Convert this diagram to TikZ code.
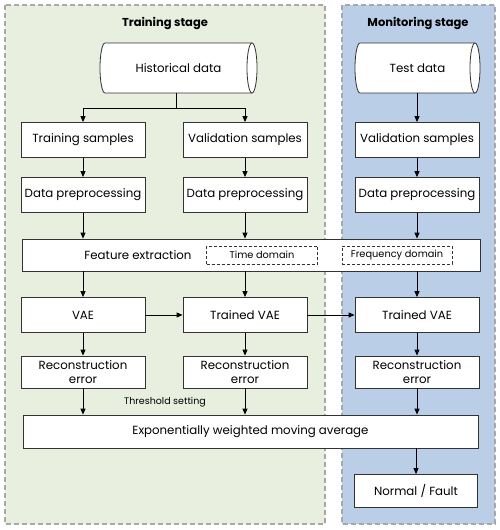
\documentclass[tikz,border=0pt]{standalone}
\usepackage{fontspec}
\setmainfont{Poppins}
\usetikzlibrary{arrows.meta}
\definecolor{pgreen}{HTML}{E8EFDE}
\definecolor{pblue}{HTML}{BACEE8}
\definecolor{pborder}{HTML}{A8A8A8}
\definecolor{bline}{HTML}{333333}
\tikzset{
  panel/.style={draw=pborder,dashed,line width=1.3pt,dash pattern=on 5pt off 3pt},
  box/.style={draw=bline,fill=white,line width=0.8pt,inner sep=0pt,align=center,font=\fontsize{11.8}{13.5}\selectfont},
  dbox/.style={draw=bline,fill=white,dashed,dash pattern=on 3pt off 2pt,line width=0.8pt,inner sep=0pt,font=\fontsize{9.8}{11}\selectfont},
  cyltext/.style={inner sep=0pt,font=\fontsize{11.8}{13.5}\selectfont},
  cylline/.style={draw=bline,fill=white,line width=0.8pt},
  arr/.style={draw=black,line width=0.8pt,-{Triangle[length=6pt,width=5pt]}},
  ln/.style={draw=black,line width=0.8pt},
  title/.style={font=\fontsize{11.5}{13}\selectfont\bfseries}
}
\begin{document}
\begin{tikzpicture}[x=1pt,y=-1pt]
\useasboundingbox (0,0) rectangle (500,530);
\fill[pgreen] (5,5) rectangle (325,524);
\draw[panel] (5,5) rectangle (325,524);
\fill[pblue] (342,5) rectangle (495,524);
\draw[panel] (342,5) rectangle (495,524);
\node[title] (t1) at (165,23) {Training stage};
\node[title] (t2) at (418,23) {Monitoring stage};

% cylinders
\path[cylline] (105,43) -- (252,43) arc[start angle=-90,end angle=90,x radius=5,y radius=25]
  -- (105,93) arc[start angle=90,end angle=270,x radius=5,y radius=25] -- cycle;
\draw[draw=bline,line width=0.8pt] (252,43) arc[start angle=-90,end angle=-270,x radius=5,y radius=25];
\node[cyltext,minimum width=157,minimum height=50] (hist) at (178.5,68) {Historical data};

\path[cylline] (360,43) -- (475,43) arc[start angle=-90,end angle=90,x radius=5,y radius=25]
  -- (360,93) arc[start angle=90,end angle=270,x radius=5,y radius=25] -- cycle;
\draw[draw=bline,line width=0.8pt] (475,43) arc[start angle=-90,end angle=-270,x radius=5,y radius=25];
\node[cyltext,minimum width=125,minimum height=50] (test) at (417.5,68) {Test data};

\node[box,minimum width=124,minimum height=35] (ts) at (83,140) {Training samples};
\node[box,minimum width=124,minimum height=35] (vs1) at (245,140) {Validation samples};
\node[box,minimum width=124,minimum height=35] (vs2) at (417,140) {Validation samples};

\node[box,minimum width=124,minimum height=35] (dp1) at (83,195) {Data preprocessing};
\node[box,minimum width=124,minimum height=35] (dp2) at (245,195) {Data preprocessing};
\node[box,minimum width=124,minimum height=35] (dp3) at (417,195) {Data preprocessing};

\node[box,minimum width=458,minimum height=32] (fe) at (251,255) {};
\node[font=\fontsize{11.8}{13.5}\selectfont] (fet) at (138,255) {Feature extraction};
\node[dbox,minimum width=111,minimum height=18] (td) at (262,255) {Time domain};
\node[dbox,minimum width=110,minimum height=18] (fd) at (397,255) {Frequency domain};

\node[box,minimum width=124,minimum height=35] (vae) at (83,315) {VAE};
\node[box,minimum width=124,minimum height=35] (tv1) at (245,315) {Trained VAE};
\node[box,minimum width=124,minimum height=35] (tv2) at (417,315) {Trained VAE};

\node[box,minimum width=124,minimum height=32] (re1) at (83,372) {Reconstruction\\error};
\node[box,minimum width=124,minimum height=32] (re2) at (245,372) {Reconstruction\\error};
\node[box,minimum width=124,minimum height=32] (re3) at (417,372) {Reconstruction\\error};

\node[box,minimum width=455,minimum height=33] (ew) at (250.5,431.5) {Exponentially weighted moving average};
\node[font=\fontsize{9.5}{10}\selectfont] (th) at (165,402) {Threshold setting};

\node[box,minimum width=123,minimum height=33] (nf) at (416,491) {Normal / Fault};

\coordinate (j) at (176,108);
\draw[ln] (hist.south -| j) -- (j);
\draw[arr] (j) -| (ts.north);
\draw[arr] (j) -| (vs1.north);
\draw[arr] (test.south -| vs2) -- (vs2);
\draw[arr] (ts) -- (dp1);
\draw[arr] (vs1) -- (dp2);
\draw[arr] (vs2) -- (dp3);
\draw[arr] (dp1) -- (dp1 |- fe.north);
\draw[arr] (dp2) -- (dp2 |- fe.north);
\draw[arr] (dp3) -- (dp3 |- fe.north);
\draw[arr] (fe.south -| vae) -- (vae);
\draw[arr] (fe.south -| tv1) -- (tv1);
\draw[arr] (fe.south -| tv2) -- (tv2);
\draw[arr] (vae) -- (tv1);
\draw[arr] (tv1) -- (tv2);
\draw[arr] (vae) -- (re1);
\draw[arr] (tv1) -- (re2);
\draw[arr] (tv2) -- (re3);
\draw[arr] (re1) -- (re1 |- ew.north);
\draw[arr] (re2) -- (re2 |- ew.north);
\draw[arr] (re3) -- (re3 |- ew.north);
\draw[arr] (ew.south -| nf) -- (nf);
\end{tikzpicture}
\end{document}
